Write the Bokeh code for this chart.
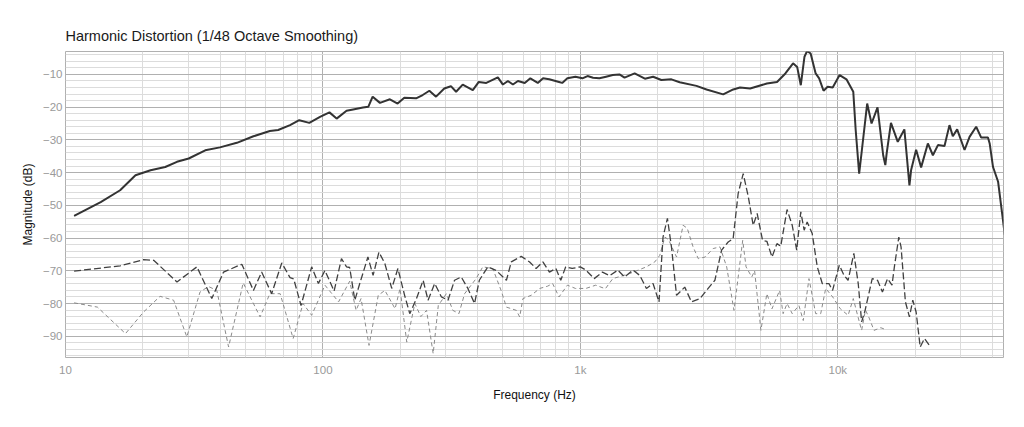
from bokeh.plotting import figure
from bokeh.models import FixedTicker, Range1d
from bokeh.embed import file_html
from bokeh.resources import INLINE

# ---- data ----
fund_f = [10.8, 13.7, 16.3, 18.7, 21.4, 24.4, 27.1, 30.1, 34.9, 39.8, 46.3, 53.7, 62.2, 67, 74.5, 80.9, 88.5,
          97.4, 106, 113, 123.5, 131, 143, 150, 156, 166.5, 182, 195, 207, 230, 244, 259, 275, 296, 314, 329,
          349, 382, 403, 431, 478, 500, 523, 547, 572, 608, 639, 683, 716, 757, 826, 850, 890, 957, 1018, 1066,
          1120, 1185, 1258, 1336, 1418, 1484, 1624, 1780, 1916, 2063, 2257, 2430, 2824, 3090, 3586, 3925, 4168,
          4563, 5300, 5805, 6255, 6700, 6950, 7180, 7420, 7600, 7840, 8200, 8460, 8800, 9130, 9550, 10160,
          10800, 11480, 11730, 12100, 12400, 13000, 13520, 14260, 15000, 15290, 15470, 16080, 17090, 18130,
          18970, 19250, 20140, 21060, 22370, 23400, 24480, 25960, 27140, 27960, 29070, 31060, 32480, 34460,
          36050, 38290, 38880, 40070, 41930, 43800, 44500]
fund_db = [-53.2, -49.0, -45.4, -40.8, -39.3, -38.3, -36.7, -35.7, -33.2, -32.3, -30.9, -28.9, -27.3, -27.0, -25.5,
           -24.0, -24.8, -23.0, -21.6, -23.5, -21.1, -20.7, -20.1, -19.9, -16.8, -18.7, -17.6, -18.9, -17.1, -17.3,
           -16.3, -15.0, -16.8, -14.3, -13.6, -15.3, -13.1, -14.8, -12.3, -12.6, -10.9, -13.1, -12.0, -13.1, -12.0,
           -12.6, -11.2, -12.6, -11.2, -11.5, -12.3, -12.6, -11.2, -10.7, -11.2, -10.5, -11.0, -11.2, -10.7, -10.2,
           -10.0, -11.0, -9.7, -11.3, -10.7, -11.7, -11.5, -12.4, -13.5, -14.6, -16.1, -14.6, -14.0, -14.3, -12.8,
           -12.3, -9.7, -6.6, -7.7, -13.3, -4.6, -2.8, -3.6, -9.7, -11.2, -15.0, -13.8, -14.0, -10.2, -11.5, -15.3,
           -27.0, -40.3, -33.1, -18.9, -25.0, -20.1, -34.7, -37.7, -34.2, -24.8, -30.6, -26.8, -43.9, -39.3, -33.0,
           -38.4, -31.1, -34.7, -31.6, -31.9, -25.5, -28.9, -26.8, -33.1, -29.1, -26.0, -29.3, -29.3, -31.1, -38.3,
           -42.8, -54.6, -59.0]

h2_f = [10.8, 16.3, 20.1, 22.0, 27.1, 32.4, 37.0, 41.1, 48.4, 53.7, 57.8, 63.2, 69.2, 74.5, 77, 82.2, 90.4, 96.0,
        101.8, 110.5, 118, 123.5, 127, 133, 139, 149.5, 156.6, 165, 174, 185, 195.5, 207.6, 217.4, 230.9, 245, 256,
        271.6, 288.6, 306, 324.5, 344.5, 365.5, 388, 405, 437, 471, 516, 539, 589, 635, 673, 715, 758, 803, 839,
        877, 929, 999, 1050, 1131, 1218, 1300, 1398, 1484, 1600, 1700, 1805, 1915, 2020, 2094, 2178, 2258, 2363,
        2543, 2700, 2914, 3135, 3330, 3535, 3750, 3920, 4100, 4290, 4490, 4690, 4860, 5100, 5300, 5550, 5800,
        6000, 6350, 6650, 6920, 7180, 7400, 7600, 7950, 8320, 8700, 9230, 9540, 10130, 10570, 10960, 11540,
        12000, 12370, 12760, 13600, 14260, 14900, 15600, 16230, 16580, 17250, 17600, 18300, 18970, 19550,
        20140, 20890, 21700, 22690]
h2_db = [-70.1, -68.5, -66.6, -66.8, -73.4, -68.8, -78.5, -70.4, -68.0, -76.0, -70.4, -77.0, -67.6, -72.1, -72.5,
         -80.6, -68.8, -73.9, -69.9, -76.2, -66.3, -68.8, -69.0, -79.0, -73.9, -65.8, -71.4, -64.3, -67.8, -75.4,
         -69.3, -77.5, -83.1, -78.5, -72.9, -79.0, -73.9, -78.0, -79.0, -72.9, -71.9, -75.4, -80.0, -72.9, -68.8,
         -69.9, -72.9, -67.3, -65.6, -67.3, -69.3, -67.3, -70.4, -69.3, -72.9, -68.8, -69.3, -68.8, -69.8, -72.4,
         -70.4, -71.5, -69.8, -71.9, -69.8, -71.4, -75.4, -73.9, -79.5, -59.7, -54.0, -62.7, -77.5, -75.0, -79.5,
         -78.5, -75.4, -72.9, -63.7, -61.2, -60.2, -46.4, -40.3, -47.4, -56.1, -52.5, -60.7, -61.0, -65.8, -61.7,
         -62.5, -51.3, -56.1, -63.7, -52.0, -57.6, -55.1, -58.6, -68.8, -73.9, -73.9, -76.0, -68.3, -71.4, -72.9,
         -64.7, -73.9, -85.6, -82.1, -72.4, -72.9, -76.5, -72.4, -74.4, -68.8, -59.7, -62.7, -79.5, -84.1, -79.0,
         -82.6, -93.3, -90.7, -92.8]

h3_f = [10.8, 13.3, 17.1, 20.1, 23.3, 26.3, 29.6, 33.3, 35.9, 38.7, 43.0, 49.0, 57.0, 62.2, 68.2, 76.6, 83.7, 90.4,
        101.8, 115, 127, 134.5, 140.6, 151, 164, 174, 190.6, 199.3, 211.6, 227.5, 240, 252.6, 268, 280.6, 301.6,
        319.6, 337.5, 355, 393.5, 417.6, 456.5, 492, 516, 564, 581, 598, 644, 695, 746, 780, 826, 890, 957, 1050,
        1147, 1250, 1336, 1548, 1805, 1945, 2033, 2128, 2200, 2363, 2506, 2600, 2740, 2870, 3050, 3280, 3485,
        3700, 3950, 4100, 4270, 4400, 4630, 4750, 5025, 5300, 5550, 5940, 6130, 6350, 6650, 7060, 7340, 7725,
        8200, 8580, 8970, 9550, 10220, 10960, 11480, 11930, 12370, 12800, 13180, 13820, 14680, 15390]
h3_db = [-79.8, -81.1, -89.2, -82.6, -77.8, -79.0, -90.2, -76.5, -74.8, -76.0, -93.3, -73.7, -84.1, -77.0, -77.0,
         -90.7, -80.0, -83.6, -74.4, -79.5, -73.2, -82.1, -78.5, -92.8, -77.5, -76.0, -81.6, -75.4, -91.8, -80.0,
         -84.0, -82.1, -95.3, -80.6, -77.0, -82.1, -83.1, -77.0, -72.4, -68.8, -69.3, -76.0, -81.1, -82.1, -84.1,
         -78.5, -77.5, -75.4, -74.7, -73.9, -78.0, -74.4, -75.4, -75.4, -74.4, -75.5, -72.4, -70.9, -68.8, -67.3,
         -65.3, -59.7, -60.5, -65.8, -56.1, -57.0, -62.7, -66.3, -65.8, -63.2, -62.7, -68.8, -82.1, -72.0, -60.7,
         -68.8, -71.9, -70.0, -88.2, -77.0, -81.6, -76.0, -83.1, -80.0, -83.1, -80.6, -85.2, -72.4, -83.1, -83.1,
         -75.4, -78.0, -81.6, -83.6, -78.5, -83.6, -88.2, -82.0, -84.1, -88.2, -87.4, -88.0]

x_ticks = [10, 100, 1000, 10000]
x_tick_labels = ["10", "100", "1k", "10k"]
y_ticks = [-90, -80, -70, -60, -50, -40, -30, -20, -10]

FONT = "Liberation Sans"

p = figure(width=1016, height=419, x_axis_type="log",
           x_range=Range1d(10, 44000), y_range=Range1d(-96.5, -3),
           output_backend="svg", toolbar_location=None,
           min_border_left=65, min_border_right=13, min_border_top=51, min_border_bottom=62,
           title="Harmonic Distortion (1/48 Octave Smoothing)")

p.title.text_font = FONT
p.title.text_font_size = "14.5px"
p.title.text_font_style = "normal"
p.title.text_color = "#1a1a1a"
p.title.offset = 0
p.title.standoff = 16

minor_x = [m * d for d in [10, 100, 1000, 10000] for m in range(2, 10) if m * d <= 44000]
p.xaxis.ticker = FixedTicker(ticks=x_ticks, minor_ticks=minor_x)
p.xaxis.major_label_overrides = {t: l for t, l in zip(x_ticks, x_tick_labels)}
minor_y = [v for v in range(-96, -2, 2) if v % 10 != 0]
p.yaxis.ticker = FixedTicker(ticks=y_ticks, minor_ticks=minor_y)

for ax in (p.xaxis, p.yaxis):
    ax.axis_line_color = None
    ax.major_tick_line_color = None
    ax.minor_tick_line_color = None
    ax.major_tick_out = 0
    ax.major_tick_in = 0
    ax.minor_tick_out = 0
    ax.minor_tick_in = 0
    ax.major_label_text_font = FONT
    ax.major_label_text_font_size = "11.5px"
    ax.major_label_text_color = "#9a9a9a"
    ax.axis_label_text_font = FONT
    ax.axis_label_text_font_size = "12px"
    ax.axis_label_text_font_style = "normal"
    ax.axis_label_text_color = "#111111"

p.xaxis.axis_label = "Frequency (Hz)"
p.yaxis.axis_label = "Magnitude (dB)"
p.xaxis.major_label_standoff = 6
p.xaxis.axis_label_standoff = 9
p.yaxis.major_label_standoff = 3
p.yaxis.axis_label_standoff = 5

p.xgrid.grid_line_color = "#b0b0b0"
p.xgrid.minor_grid_line_color = "#dcdcdc"
p.ygrid.grid_line_color = "#b0b0b0"
p.ygrid.minor_grid_line_color = "#dcdcdc"
p.outline_line_color = "#b0b0b0"

p.line(h3_f, h3_db, line_color="#8a8a8a", line_width=1.0, line_dash="4 3")
p.line(h2_f, h2_db, line_color="#404040", line_width=1.3, line_dash="7 3")
p.line(fund_f, fund_db, line_color="#333333", line_width=2.0)

open("out.html", "w").write(file_html(p, INLINE))
